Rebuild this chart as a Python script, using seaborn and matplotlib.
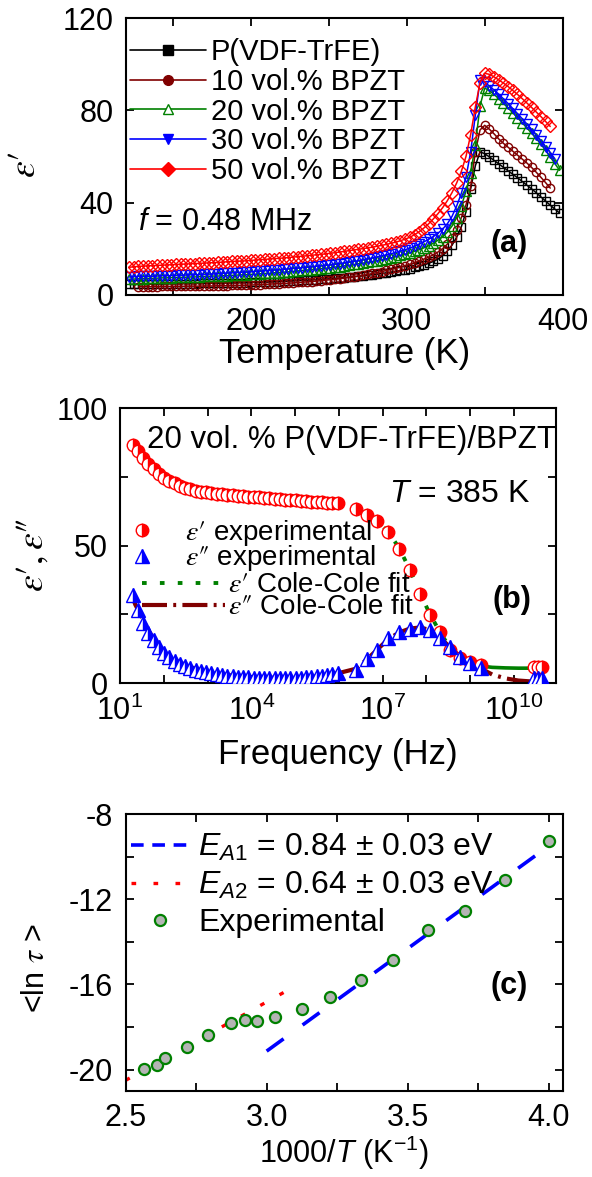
import numpy as np
import matplotlib
matplotlib.use("Agg")
import matplotlib.pyplot as plt
import seaborn as sns
from matplotlib.lines import Line2D
from matplotlib.font_manager import FontProperties
from matplotlib.ticker import FixedLocator, NullFormatter, LogFormatterSciNotation

# ---------------- Panel (a): permittivity vs temperature (f = 0.48 MHz) ----------------
temperature_K = [
    122, 125, 128, 131, 134, 137, 140, 143, 146, 149,
    152, 155, 158, 161, 164, 167, 170, 173, 176, 179,
    182, 185, 188, 191, 194, 197, 200, 203, 206, 209,
    212, 215, 218, 221, 224, 227, 230, 233, 236, 239,
    242, 245, 248, 251, 254, 257, 260, 263, 266, 269,
    272, 275, 278, 281, 284, 287, 290, 293, 296, 299,
    302, 305, 308, 311, 314, 317, 320, 323, 326, 329,
    332, 335, 338, 341, 344, 347, 350, 353, 356, 359,
    362, 365, 368, 371, 374, 377, 380, 383, 386, 389,
    392, 395, 398]

eps_pvdf = [
    4.6, 4.6, 4.6, 4.6, 4.7, 4.7, 4.7, 4.7, 4.8, 4.8,
    4.8, 4.8, 4.9, 4.9, 4.9, 5.0, 5.0, 5.0, 5.1, 5.1,
    5.1, 5.2, 5.2, 5.2, 5.3, 5.3, 5.4, 5.4, 5.5, 5.5,
    5.6, 5.7, 5.8, 5.9, 6.0, 6.1, 6.2, 6.3, 6.4, 6.5,
    6.6, 6.8, 6.9, 7.0, 7.2, 7.3, 7.5, 7.7, 7.9, 8.1,
    8.3, 8.5, 8.8, 9.0, 9.3, 9.6, 9.9, 10.2, 10.6, 11.0,
    11.4, 11.9, 12.4, 13.0, 13.7, 14.5, 15.5, 17.0, 19.0, 21.5,
    25.0, 29.5, 36.0, 46.0, 56.0, 62.0, 61.2, 59.8, 58.3, 56.8,
    55.3, 53.8, 52.3, 50.8, 49.2, 47.6, 46.0, 44.3, 42.5, 40.7,
    38.9, 37.2, 35.5]

eps_10 = [  # starts at 128 K
    3.6, 3.6, 3.6, 3.6, 3.6, 3.7, 3.7, 3.7, 3.7, 3.7,
    3.8, 3.8, 3.8, 3.8, 3.9, 3.9, 3.9, 4.0, 4.0, 4.0,
    4.1, 4.1, 4.2, 4.2, 4.3, 4.4, 4.5, 4.6, 4.7, 4.8,
    4.9, 5.0, 5.1, 5.2, 5.4, 5.5, 5.7, 5.8, 6.0, 6.2,
    6.4, 6.6, 6.8, 7.0, 7.3, 7.6, 7.9, 8.2, 8.5, 8.9,
    9.3, 9.7, 10.1, 10.6, 11.1, 11.6, 12.1, 12.7, 13.3, 14.0,
    14.7, 15.5, 16.4, 17.4, 18.6, 20.0, 22.0, 24.7, 28.0, 33.5,
    39.0, 47.0, 62.0, 71.5, 73.5, 71.8, 69.8, 67.6, 65.7, 64.0,
    62.3, 60.6, 58.9, 57.2, 55.3, 53.2, 51.0, 48.7, 46.3]

eps_20 = [
    6.8, 6.9, 7.0, 7.1, 7.2, 7.2, 7.3, 7.4, 7.4, 7.5,
    7.6, 7.6, 7.7, 7.8, 7.8, 7.9, 8.0, 8.1, 8.2, 8.2,
    8.3, 8.4, 8.5, 8.6, 8.7, 8.8, 8.9, 9.0, 9.2, 9.3,
    9.4, 9.6, 9.7, 9.9, 10.0, 10.2, 10.4, 10.6, 10.8, 11.0,
    11.2, 11.4, 11.6, 11.8, 12.1, 12.3, 12.6, 12.9, 13.2, 13.5,
    13.8, 14.2, 14.5, 14.9, 15.3, 15.7, 16.1, 16.6, 17.1, 17.6,
    18.2, 18.9, 19.6, 20.4, 21.3, 22.4, 23.7, 25.2, 27.2, 29.8,
    33.5, 38.5, 45.0, 53.0, 65.0, 82.0, 89.6, 88.6, 86.9, 85.0,
    83.0, 81.0, 78.9, 76.8, 74.6, 72.4, 70.1, 67.8, 65.4, 62.6,
    59.8, 56.9, 54.0]

eps_30 = [
    7.8, 7.9, 8.0, 8.0, 8.1, 8.1, 8.2, 8.3, 8.3, 8.4,
    8.5, 8.5, 8.6, 8.7, 8.8, 8.8, 8.9, 9.0, 9.1, 9.2,
    9.3, 9.5, 9.6, 9.7, 9.8, 9.9, 10.0, 10.2, 10.3, 10.5,
    10.6, 10.8, 10.9, 11.1, 11.3, 11.5, 11.6, 11.8, 12.0, 12.2,
    12.4, 12.6, 12.8, 13.0, 13.3, 13.6, 13.9, 14.2, 14.5, 14.8,
    15.2, 15.6, 16.0, 16.4, 16.9, 17.4, 17.9, 18.4, 19.0, 19.6,
    20.3, 21.1, 22.0, 23.0, 24.1, 25.3, 26.7, 28.5, 30.8, 34.0,
    38.5, 44.0, 51.0, 62.0, 78.0, 93.0, 92.3, 90.5, 88.8, 87.0,
    85.0, 82.9, 80.8, 78.6, 76.4, 74.1, 71.8, 69.4, 66.9, 64.3,
    61.7, 59.0]

eps_50 = [
    12.0, 12.2, 12.4, 12.5, 12.6, 12.7, 12.8, 12.9, 13.0, 13.1,
    13.2, 13.3, 13.4, 13.5, 13.6, 13.7, 13.8, 13.9, 14.0, 14.1,
    14.2, 14.4, 14.5, 14.6, 14.7, 14.8, 15.0, 15.1, 15.3, 15.4,
    15.6, 15.7, 15.9, 16.0, 16.2, 16.4, 16.6, 16.8, 17.0, 17.2,
    17.4, 17.6, 17.8, 18.1, 18.3, 18.6, 18.9, 19.2, 19.5, 19.8,
    20.1, 20.4, 20.7, 21.1, 21.5, 21.9, 22.4, 22.9, 23.5, 24.2,
    25.0, 26.1, 27.4, 29.0, 30.8, 32.9, 35.2, 37.8, 40.8, 44.3,
    48.5, 53.5, 60.0, 69.5, 81.5, 92.0, 96.0, 95.6, 94.5, 93.2,
    91.8, 90.3, 88.6, 86.9, 85.1, 83.2, 81.3, 79.3, 77.3, 75.2,
    73.0]

series_labels_a = ["P(VDF-TrFE)", "10 vol.% BPZT", "20 vol.% BPZT",
                   "30 vol.% BPZT", "50 vol.% BPZT"]
series_values_a = [eps_pvdf, eps_10, eps_20, eps_30, eps_50]
series_first_T_index = [0, 2, 0, 0, 0]

# ---------------- Panel (b): spectra at T = 385 K ----------------
log10_freq = [
    1.29, 1.41, 1.53, 1.65, 1.77, 1.89, 2.01, 2.13, 2.25, 2.37,
    2.49, 2.61, 2.73, 2.85, 2.97, 3.09, 3.21, 3.33, 3.45, 3.57,
    3.69, 3.81, 3.93, 4.05, 4.17, 4.29, 4.41, 4.53, 4.65, 4.77,
    4.89, 5.01, 5.13, 5.25, 5.37, 5.49, 5.61, 5.73, 5.85, 5.97,
    6.39, 6.64, 6.88, 7.13, 7.38, 7.62, 7.85, 8.08, 8.31, 8.53,
    8.77, 9.00, 9.24, 10.45, 10.55, 10.65]
eps_real = [
    86.5, 84.3, 82.0, 79.7, 77.7, 76.0, 74.6, 73.5, 72.6, 71.8,
    71.1, 70.5, 70.0, 69.6, 69.3, 69.0, 68.8, 68.6, 68.4, 68.2,
    68.1, 67.9, 67.8, 67.6, 67.5, 67.3, 67.2, 67.0, 66.9, 66.7,
    66.6, 66.4, 66.3, 66.1, 66.0, 65.9, 65.7, 65.6, 65.4, 65.3,
    63.3, 61.2, 58.8, 54.8, 48.8, 41.0, 32.5, 24.6, 18.6, 12.0,
    9.0, 7.6, 6.5, 5.9, 5.9, 5.9]
eps_imag = [
    32.0, 26.5, 21.8, 18.3, 15.6, 13.0, 10.9, 9.3, 8.0, 7.0,
    6.1, 5.4, 4.8, 4.3, 3.9, 3.5, 3.2, 2.9, 2.7, 2.5,
    2.3, 2.2, 2.1, 2.0, 1.9, 1.9, 1.8, 1.8, 1.8, 1.8,
    1.9, 1.9, 2.0, 2.1, 2.2, 2.4, 2.6, 2.9, 3.2, 3.5,
    4.8, 8.9, 12.0, 16.2, 18.6, 19.8, 20.4, 19.2, 16.2, 13.2,
    9.5, 7.1, 5.3, 1.7, 1.8, 2.0]

fit_real_log10_freq = [5.95, 6.2, 6.39, 6.64, 6.88, 7.13, 7.38, 7.62, 7.85,
                       8.08, 8.31, 8.53, 8.77, 9.0, 9.24]
fit_real = [65.4, 64.5, 63.3, 61.2, 58.8, 54.9, 49.0, 41.2, 32.8,
            25.0, 18.5, 13.0, 9.4, 7.3, 6.2]
fit_real_tail_log10_freq = [9.24, 9.5, 9.8, 10.1, 10.42]
fit_real_tail = [6.2, 5.7, 5.5, 5.4, 5.4]
fit_imag_log10_freq = [1.27, 1.35, 1.45, 1.6, 1.75, 1.9, 2.1, 2.3, 2.6, 3.0,
                       3.5, 4.0, 4.5, 5.0, 5.5, 5.97, 6.39, 6.64, 6.88, 7.13,
                       7.38, 7.62, 7.85, 8.08, 8.31, 8.53, 8.77, 9.0, 9.24, 9.5,
                       9.8, 10.1, 10.45]
fit_imag = [32.0, 28.5, 25.5, 20.5, 16.5, 13.2, 10.2, 8.0, 5.8, 4.0,
            2.8, 2.1, 1.9, 1.9, 2.4, 3.5, 5.2, 8.6, 12.2, 16.0,
            18.4, 19.8, 20.2, 19.3, 16.6, 13.1, 9.6, 7.2, 5.3, 3.1,
            1.7, 0.9, 0.5]

# ---------------- Panel (c): Arrhenius plot ----------------
inv_T = [2.564, 2.611, 2.639, 2.717, 2.793, 2.874, 2.924, 2.967, 3.030,
         3.125, 3.226, 3.333, 3.448, 3.571, 3.704, 3.846, 4.000]
ln_tau = [-19.98, -19.80, -19.47, -18.92, -18.38, -17.80, -17.67, -17.70, -17.55,
          -17.14, -16.58, -15.80, -14.86, -13.45, -12.55, -11.08, -9.28]
fit1_x = [3.0, 3.985]
fit1_y = [-19.13, -9.65]
fit2_x = [2.5, 3.06]
fit2_y = [-20.5, -16.38]

# ---------------- style ----------------
sns.set_theme(style="ticks")
plt.rcParams.update({
    "font.family": ["Liberation Sans", "DejaVu Sans"],
    "mathtext.fontset": "custom",
    "mathtext.rm": "Liberation Sans",
    "mathtext.it": "Liberation Sans:italic",
    "mathtext.bf": "Liberation Sans:bold",
    "axes.unicode_minus": False,
    "axes.linewidth": 1.5,
    "axes.edgecolor": "black",
    "xtick.color": "black",
    "ytick.color": "black",
    "text.color": "black",
    "axes.labelcolor": "black",
})

BLACK, WINE, GREEN, BLUE, RED = "#000000", "#800000", "#008000", "#0000FF", "#FF0000"
TICK = 22
LABEL = 25
EPS1 = r"$\varepsilon′$"
EPS2 = r"$\varepsilon″$"

fig = plt.figure(figsize=(5.92, 11.77), dpi=100)
axA = fig.add_axes([0.2128, 0.7494, 0.7377, 0.2353])
axB = fig.add_axes([0.2027, 0.4197, 0.7373, 0.2336])
axC = fig.add_axes([0.2123, 0.0731, 0.7382, 0.2353])


def style_ticks(ax):
    ax.tick_params(which="both", direction="in", top=True, right=True,
                   length=6, width=1.3, labelsize=TICK, pad=9)


def curve(ax, x, y, **kw):
    sns.lineplot(x=np.asarray(x, dtype=float), y=np.asarray(y, dtype=float), ax=ax,
                 sort=False, estimator=None, legend=False, **kw)


# ---- panel (a)
colors_a = [BLACK, WINE, GREEN, BLUE, RED]
markers_a = ["s", "o", "^", "v", "D"]
msizes_a = [5.5, 6, 6.5, 6.5, 6]
for vals, c, m, ms, i0 in zip(series_values_a, colors_a, markers_a, msizes_a, series_first_T_index):
    T = temperature_K[i0:i0 + len(vals)]
    curve(axA, T, vals, color=c, marker=m, markersize=ms, markerfacecolor="none",
          markeredgecolor=c, markeredgewidth=1.0, linewidth=1.1)
axA.set_xlim(120, 400)
axA.set_ylim(0, 120)
axA.set_xticks([200, 300, 400])
axA.set_xticks([150, 250, 350], minor=True)
axA.set_yticks([0, 40, 80, 120])
style_ticks(axA)
axA.set_xlabel("Temperature (K)", fontsize=LABEL, labelpad=0)
axA.set_ylabel(EPS1, fontsize=LABEL + 2, math_fontfamily="stix")
axA.yaxis.set_label_coords(-0.19, 0.47)

leg_fill = [BLACK, WINE, "white", BLUE, RED]
handles_a = [Line2D([], [], color=c, marker=m, markersize=7, markerfacecolor=f,
                    markeredgecolor=c, linewidth=1.2)
             for c, m, f in zip(colors_a, markers_a, leg_fill)]
axA.legend(handles_a, series_labels_a, loc="center left", bbox_to_anchor=(0.01, 0.662),
           frameon=False, fontsize=21, handlelength=2.6, handletextpad=0.15,
           labelspacing=0.06, borderpad=0, borderaxespad=0)
axA.text(127.7, 28.1, r"$f$ = 0.48 MHz", fontsize=22, va="baseline")
axA.text(354, 18.5, "(a)", fontsize=22, fontweight="bold", va="baseline")

# ---- panel (b)
freq = 10 ** np.asarray(log10_freq)
axB.set_xscale("log")
DOT = (0, (1.2, 3.4))
DASHDOT = (0, (6, 1.5, 0.7, 1.5))
curve(axB, 10 ** np.asarray(fit_real_log10_freq), fit_real, color=GREEN,
      linewidth=2.8, linestyle=DOT, zorder=2)
curve(axB, 10 ** np.asarray(fit_real_tail_log10_freq), fit_real_tail, color=GREEN,
      linewidth=2.6, zorder=2)
curve(axB, 10 ** np.asarray(fit_imag_log10_freq), fit_imag, color=WINE,
      linewidth=3.0, linestyle=DASHDOT, zorder=2)
curve(axB, freq, eps_real, color=RED, marker="o", markersize=9, linestyle="none",
      fillstyle="right", markerfacecolor=RED, markerfacecoloralt="white",
      markeredgecolor=RED, markeredgewidth=1.0, zorder=3)
curve(axB, freq, eps_imag, color=BLUE, marker="^", markersize=9.5, linestyle="none",
      fillstyle="right", markerfacecolor=BLUE, markerfacecoloralt="white",
      markeredgecolor=BLUE, markeredgewidth=1.0, zorder=4)
axB.set_xlim(10 ** 1, 10 ** 10.97)
axB.set_ylim(0, 100)
axB.xaxis.set_major_locator(FixedLocator([1e1, 1e4, 1e7, 1e10]))
axB.xaxis.set_minor_locator(FixedLocator([1e2, 1e3, 1e5, 1e6, 1e8, 1e9]))
axB.xaxis.set_major_formatter(LogFormatterSciNotation())
axB.xaxis.set_minor_formatter(NullFormatter())
axB.set_yticks([0, 50, 100])
axB.set_yticks([25, 75], minor=True)
style_ticks(axB)
axB.set_xlabel("Frequency (Hz)", fontsize=LABEL, labelpad=8)
axB.set_ylabel(r"$\varepsilon′, \varepsilon″$", fontsize=LABEL + 2, math_fontfamily="stix")
axB.yaxis.set_label_coords(-0.16, 0.465)

fp_b = FontProperties(family=["Liberation Sans", "DejaVu Sans"], size=20,
                      math_fontfamily="stix")
h_exp = [Line2D([], [], linestyle="none", marker="o", markersize=9, fillstyle="right",
                markerfacecolor=RED, markerfacecoloralt="white", markeredgecolor=RED),
         Line2D([], [], linestyle="none", marker="^", markersize=9.5, fillstyle="right",
                markerfacecolor=BLUE, markerfacecoloralt="white", markeredgecolor=BLUE)]
legB1 = axB.legend(h_exp, [EPS1 + " experimental", EPS2 + " experimental"],
                   loc="center left", bbox_to_anchor=(0.019, 0.50), frameon=False,
                   prop=fp_b, handlelength=1.0, handletextpad=1.05, labelspacing=-0.15,
                   borderpad=0, borderaxespad=0)
axB.add_artist(legB1)
h_fit = [Line2D([], [], color=GREEN, linewidth=2.8, linestyle=DOT),
         Line2D([], [], color=WINE, linewidth=3.0, linestyle=DASHDOT)]
axB.legend(h_fit, [EPS1 + " Cole-Cole fit", EPS2 + " Cole-Cole fit"],
           loc="center left", bbox_to_anchor=(0.05, 0.315), frameon=False,
           prop=fp_b, handlelength=3.0, handletextpad=0.1, labelspacing=-0.15,
           borderpad=0, borderaxespad=0)
axB.text(40.7, 85.4, "20 vol. % P(VDF-TrFE)/BPZT", fontsize=22.5, va="baseline")
axB.text(10 ** 7.15, 65.7, r"$T$ = 385 K", fontsize=23, va="baseline")
axB.text(10 ** 9.5, 27.2, "(b)", fontsize=22, fontweight="bold", va="baseline")

# ---- panel (c)
curve(axC, fit1_x, fit1_y, color=BLUE, linewidth=2.6, linestyle=(0, (5.8, 6.5)), zorder=2)
curve(axC, fit2_x, fit2_y, color=RED, linewidth=2.4, linestyle=(0, (1.4, 5.2)), zorder=2)
curve(axC, inv_T, ln_tau, color=GREEN, marker="o", markersize=8, linestyle="none",
      markerfacecolor="#B4B4B4", markeredgecolor=GREEN, markeredgewidth=1.6, zorder=3)
axC.set_xlim(2.5, 4.05)
axC.set_ylim(-21, -8)
axC.set_xticks([2.5, 3.0, 3.5, 4.0])
axC.set_xticks([2.75, 3.25, 3.75], minor=True)
axC.set_xticklabels(["2.5", "3.0", "3.5", "4.0"])
axC.set_yticks([-20, -16, -12, -8])
axC.set_yticks([-18, -14, -10], minor=True)
style_ticks(axC)
axC.set_xlabel(r"1000/$T$ (K$^{-1}$)", fontsize=22, labelpad=0)
axC.set_ylabel(r"<ln $\tau$ >", fontsize=22, math_fontfamily="stix")
axC.yaxis.set_label_coords(-0.17, 0.444)
h_c = [Line2D([], [], color=BLUE, linewidth=2.6, linestyle=(0, (3.5, 2.4))),
       Line2D([], [], color=RED, linewidth=2.4, linestyle=(0, (1.4, 5.2))),
       Line2D([], [], linestyle="none", marker="o", markersize=8, markerfacecolor="#B4B4B4",
              markeredgecolor=GREEN, markeredgewidth=1.6)]
axC.legend(h_c, [r"$E_{\mathit{A1}}$ = 0.84 ± 0.03 eV", r"$E_{\mathit{A2}}$ = 0.64 ± 0.03 eV",
                 "Experimental"],
           loc="center left", bbox_to_anchor=(0.012, 0.744), frameon=False, fontsize=23,
           handlelength=1.8, handletextpad=0.3, labelspacing=0.22,
           borderpad=0, borderaxespad=0)
axC.text(3.794, -16.45, "(c)", fontsize=22, fontweight="bold", va="baseline")

fig.savefig("out.png", dpi=100)
